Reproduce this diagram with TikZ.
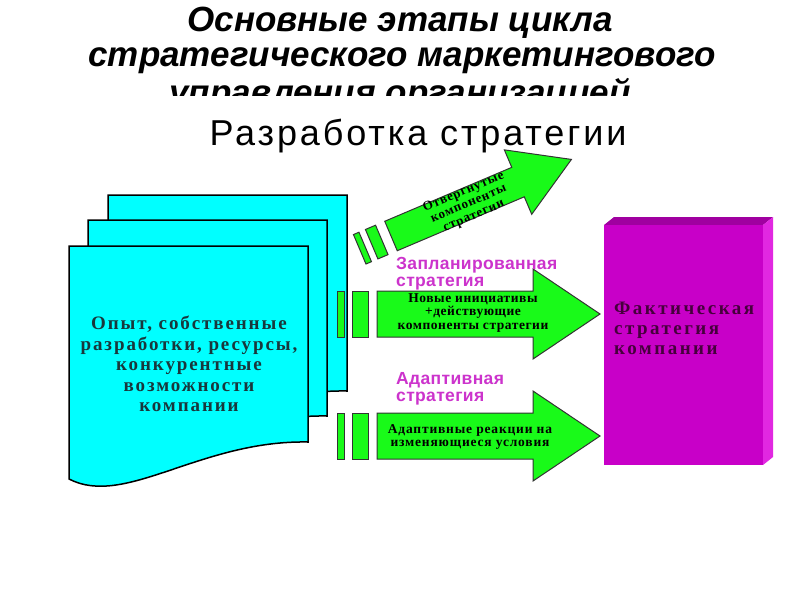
\documentclass[tikz,border=0pt]{standalone}
\usepackage{fontspec}
\setmainfont{Liberation Serif}
\newfontfamily\titlefont{Liberation Sans}
\newfontfamily\headfont[LetterSpace=8]{Liberation Sans}
\newfontfamily\labfont[LetterSpace=2]{Liberation Sans}
\newfontfamily\docfont[LetterSpace=10]{Liberation Serif}
\newfontfamily\boxfont[LetterSpace=13]{Liberation Serif}
\newfontfamily\arrfont[LetterSpace=4]{Liberation Serif}
\newfontfamily\arrfontb[LetterSpace=6]{Liberation Serif}
\definecolor{cyanfill}{RGB}{0,255,255}
\definecolor{arrowgreen}{RGB}{25,250,25}
\definecolor{magfront}{RGB}{200,0,200}
\definecolor{magtop}{RGB}{160,0,160}
\definecolor{magside}{RGB}{225,40,225}
\definecolor{labmag}{RGB}{204,51,204}
\definecolor{doctext}{RGB}{25,55,60}
\definecolor{boxtext}{RGB}{70,0,60}
\tikzset{
  docshape/.style={draw=black, line width=1.5pt, fill=cyanfill},
  arrowshape/.style={draw=black!80, line width=1pt, fill=arrowgreen},
  titletext/.style={inner sep=0pt, anchor=base, font={\titlefont\bfseries\itshape\fontsize{35}{35}\selectfont}},
  labtext/.style={inner sep=0pt, anchor=west, align=left, text=labmag, font={\labfont\bfseries\fontsize{17.5}{17}\selectfont}},
  arrtext/.style={inner sep=0pt, align=center, text=black, font={\arrfont\bfseries\fontsize{13.5}{13.5}\selectfont}}
}
\begin{document}
\begin{tikzpicture}[x=1pt, y=-1pt]
\useasboundingbox (0,0) rectangle (800,600);
\fill[white] (0,0) rectangle (800,600);

% title
\node[titletext] (t1) at (400,31) {Основные этапы цикла};
\node[titletext] (t2) at (402,66) {стратегического маркетингового};
\begin{scope}
  \clip (0,0) rectangle (800,95);
  \node[titletext] (t3) at (400,104) {управления организацией};
\end{scope}
\node[inner sep=0pt, anchor=base, font={\headfont\fontsize{36}{36}\selectfont}] (head) at (418,145) {Разработка стратегии};

% stacked documents
\foreach \dx/\dy in {39/-51, 19/-26, 0/0}{
  \begin{scope}[shift={(\dx,\dy)}]
    \draw[docshape] (69,246) -- (308,246) -- (308,442)
      .. controls (200,440) and (125,508) .. (69,479) -- cycle;
  \end{scope}
}
\node[inner sep=0pt, align=center, text=doctext,
  font={\docfont\bfseries\fontsize{19}{20.5}\selectfont}] (doc) at (189,364)
  {Опыт, собственные\\разработки, ресурсы,\\конкурентные\\возможности\\компании};

% top (tilted) arrow
\begin{scope}[shift={(391,236)}, rotate=23]
  \draw[arrowshape] (-34,-16) rectangle (-28,16);
  \draw[arrowshape] (-21,-16) rectangle (-10,16);
  \draw[arrowshape] (0,-16) -- (138,-16) -- (138,-35) -- (196,0) -- (138,35) -- (138,16) -- (0,16) -- cycle;
  \node[arrtext, rotate=23, font={\arrfontb\bfseries\fontsize{13}{13}\selectfont}] (rej) at (84,1)
    {Отвергнутые\\компоненты\\стратегии};
\end{scope}

% horizontal arrows
\foreach \cy in {314,436}{
  \draw[arrowshape] (337,\cy-23) rectangle (344,\cy+23);
  \draw[arrowshape] (352,\cy-23) rectangle (368,\cy+23);
  \draw[arrowshape] (377,\cy-23) -- (533,\cy-23) -- (533,\cy-45) -- (600,\cy)
    -- (533,\cy+45) -- (533,\cy+23) -- (377,\cy+23) -- cycle;
}
\node[arrtext] (plan) at (473,313) {Новые инициативы\\+действующие\\компоненты стратегии};
\node[arrtext, font={\arrfontb\bfseries\fontsize{13.5}{12.5}\selectfont}] (adapt) at (470,437)
  {Адаптивные реакции на\\изменяющиеся условия};

\node[labtext] (lplan) at (396,273.5) {Запланированная\\стратегия};
\node[labtext] (ladapt) at (396,388.5) {Адаптивная\\стратегия};

% magenta box
\fill[magtop] (604,225) -- (614,217) -- (773,217) -- (763,225) -- cycle;
\fill[magside] (763,225) -- (773,217) -- (773,457) -- (763,465) -- cycle;
\fill[magfront] (604,225) rectangle (763,465);
\node[inner sep=0pt, anchor=west, align=left, text=boxtext,
  font={\boxfont\bfseries\fontsize{19}{20}\selectfont}] (fact) at (614,328)
  {Фактическая\\стратегия\\компании};
\end{tikzpicture}
\end{document}
